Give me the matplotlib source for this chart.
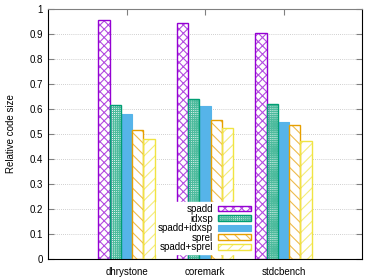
import numpy as np
import matplotlib
matplotlib.use("Agg")
import matplotlib.pyplot as plt
from matplotlib.colors import to_rgb
from matplotlib.legend_handler import HandlerTuple

# benchmarks and relative code sizes
benchmarks = ["dhrystone", "coremark", "stdcbench"]
spadd = [0.955, 0.945, 0.904]
idxsp = [0.618, 0.639, 0.619]
spadd_idxsp = [0.582, 0.612, 0.550]
sprel = [0.517, 0.556, 0.536]
spadd_sprel = [0.480, 0.524, 0.473]

series = [
    ("spadd", spadd, "#9400d3", "xxxx", False),
    ("idxsp", idxsp, "#009e73", "++++++++", False),
    ("spadd+idxsp", spadd_idxsp, "#56b4e9", None, True),
    ("sprel", sprel, "#e69f00", "\\\\\\", False),
    ("spadd+sprel", spadd_sprel, "#f0e442", "///", False),
]


def lighten(c, f):
    r, g, b = to_rgb(c)
    return (1 - f + f * r, 1 - f + f * g, 1 - f + f * b)


plt.rcParams["font.family"] = ["Liberation Sans", "DejaVu Sans"]
plt.rcParams["hatch.linewidth"] = 0.8

fig = plt.figure(figsize=(3.79, 2.79), dpi=100)
ax = fig.add_axes([48 / 379, 20 / 279, 314 / 379, 250 / 279])

x = np.arange(len(benchmarks))
width = 0.144
handles = []
labels = []
for i, (name, vals, color, hatch, solid) in enumerate(series):
    offset = (i - 2) * width
    if solid:
        b = ax.bar(x + offset, vals, width, color=color, edgecolor=color,
                   linewidth=0.8, zorder=2)
        handles.append(b)
    else:
        b1 = ax.bar(x + offset, vals, width, facecolor="white",
                    edgecolor=lighten(color, 0.7), hatch=hatch,
                    linewidth=0, zorder=2)
        b2 = ax.bar(x + offset, vals, width, fill=False, edgecolor=color,
                    linewidth=1.0, zorder=3)
        handles.append((b1, b2))
    labels.append(name)

ax.set_xlim(-1, 3)
ax.set_ylim(0, 1)
ax.set_yticks(np.arange(0, 1.01, 0.1))
ax.set_yticklabels(["0", "0.1", "0.2", "0.3", "0.4", "0.5", "0.6", "0.7", "0.8", "0.9", "1"])
ax.set_xticks(x)
ax.set_xticklabels(benchmarks)
ax.tick_params(axis="both", labelsize=7, direction="in", length=4, color="#808080")
ax.tick_params(axis="x", top=True, bottom=False, pad=6)
ax.tick_params(axis="y", right=True)
ax.yaxis.grid(True, linestyle=(0, (1, 1.5)), color="#c0c0c0", linewidth=0.6, zorder=0)
ax.set_axisbelow(True)
ax.spines["top"].set_color("#808080")
ax.set_ylabel("Relative code size", fontsize=7, labelpad=10)

ax.legend(handles, labels, handler_map={tuple: HandlerTuple(ndivide=1)},
          loc="lower right", bbox_to_anchor=(253 / 379, 25 / 279),
          bbox_transform=fig.transFigure, fontsize=7, markerfirst=False,
          frameon=True, edgecolor="white", framealpha=1, fancybox=False,
          handlelength=3.4, handleheight=0.55, labelspacing=-0.05,
          handletextpad=0.5, borderpad=0.2, borderaxespad=0)

fig.savefig("out.png", dpi=100)
